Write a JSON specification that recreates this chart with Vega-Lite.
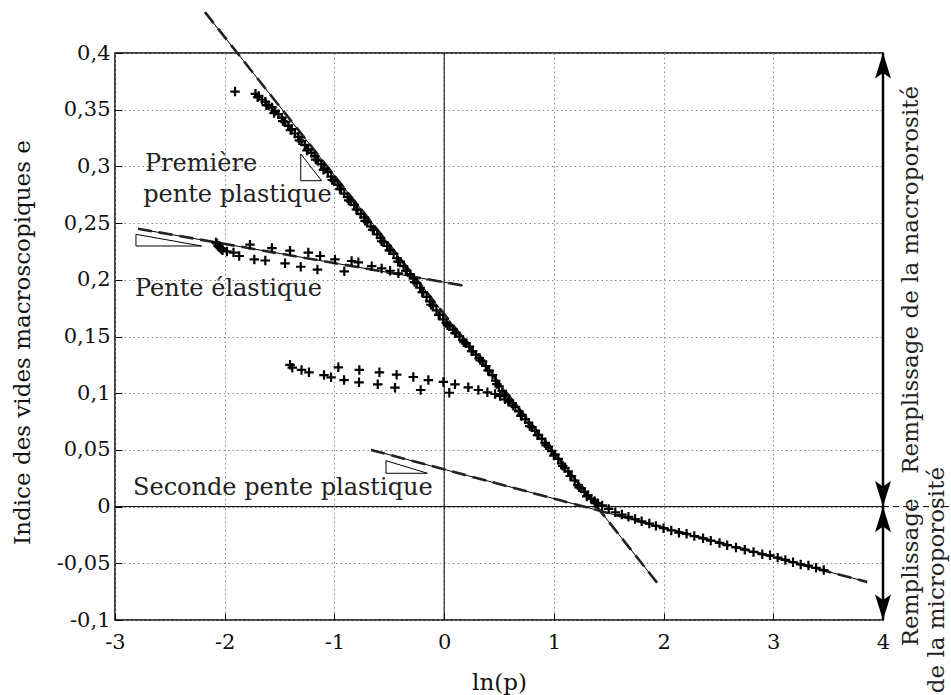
{
"$schema": "https://vega.github.io/schema/vega-lite/v6.json",
"width": 768, "height": 567,
"autosize": {"type": "none"},
"padding": {"left": 115, "top": 53, "right": 68, "bottom": 75},
"background": "white",
"config": {
  "view": {"stroke": "black", "strokeWidth": 1.5},
  "font": "DejaVu Serif",
  "axis": {"labelFont": "DejaVu Serif", "titleFont": "DejaVu Serif", "labelFontSize": 21, "titleFontSize": 23, "labelColor": "#111", "titleColor": "#111", "titleFontWeight": "normal", "grid": true, "gridColor": "#888", "gridDash": [1.5, 3], "gridWidth": 1, "domain": false, "tickColor": "black", "tickSize": -7, "tickWidth": 1}
},
"datasets": {
  "pts": [
    {"x": -1.906, "y": 0.366},
    {"x": -1.72, "y": 0.364}, {"x": -1.69, "y": 0.362}, {"x": -1.66, "y": 0.359}, {"x": -1.63, "y": 0.357}, {"x": -1.6, "y": 0.354}, {"x": -1.57, "y": 0.352}, {"x": -1.54, "y": 0.349}, {"x": -1.51, "y": 0.346}, {"x": -1.48, "y": 0.343}, {"x": -1.45, "y": 0.339}, {"x": -1.42, "y": 0.336}, {"x": -1.39, "y": 0.333}, {"x": -1.36, "y": 0.329}, {"x": -1.33, "y": 0.326}, {"x": -1.3, "y": 0.322}, {"x": -1.27, "y": 0.319}, {"x": -1.24, "y": 0.315}, {"x": -1.21, "y": 0.312}, {"x": -1.18, "y": 0.309}, {"x": -1.15, "y": 0.305}, {"x": -1.12, "y": 0.302}, {"x": -1.09, "y": 0.298}, {"x": -1.06, "y": 0.295}, {"x": -1.03, "y": 0.291}, {"x": -1.0, "y": 0.287}, {"x": -0.97, "y": 0.284}, {"x": -0.94, "y": 0.28}, {"x": -0.91, "y": 0.276}, {"x": -0.88, "y": 0.273}, {"x": -0.85, "y": 0.269}, {"x": -0.82, "y": 0.266}, {"x": -0.79, "y": 0.262}, {"x": -0.76, "y": 0.258}, {"x": -0.73, "y": 0.255}, {"x": -0.7, "y": 0.251}, {"x": -0.67, "y": 0.247}, {"x": -0.64, "y": 0.244}, {"x": -0.61, "y": 0.24}, {"x": -0.58, "y": 0.237}, {"x": -0.55, "y": 0.233}, {"x": -0.52, "y": 0.23}, {"x": -0.49, "y": 0.226}, {"x": -0.46, "y": 0.223}, {"x": -0.43, "y": 0.219}, {"x": -0.4, "y": 0.216}, {"x": -0.37, "y": 0.212}, {"x": -0.34, "y": 0.208}, {"x": -0.31, "y": 0.205}, {"x": -0.28, "y": 0.201}, {"x": -0.25, "y": 0.197}, {"x": -0.22, "y": 0.193}, {"x": -0.19, "y": 0.189}, {"x": -0.16, "y": 0.185}, {"x": -0.13, "y": 0.181}, {"x": -0.1, "y": 0.177}, {"x": -0.07, "y": 0.173}, {"x": -0.04, "y": 0.169}, {"x": -0.01, "y": 0.165}, {"x": 0.02, "y": 0.162}, {"x": 0.05, "y": 0.159}, {"x": 0.08, "y": 0.156}, {"x": 0.11, "y": 0.153}, {"x": 0.14, "y": 0.15}, {"x": 0.17, "y": 0.147}, {"x": 0.2, "y": 0.144}, {"x": 0.23, "y": 0.141}, {"x": 0.26, "y": 0.137}, {"x": 0.29, "y": 0.134}, {"x": 0.32, "y": 0.131}, {"x": 0.35, "y": 0.128}, {"x": 0.38, "y": 0.124}, {"x": 0.41, "y": 0.12}, {"x": 0.44, "y": 0.116}, {"x": 0.47, "y": 0.111}, {"x": 0.5, "y": 0.106}, {"x": 0.53, "y": 0.102}, {"x": 0.56, "y": 0.098}, {"x": 0.59, "y": 0.094}, {"x": 0.62, "y": 0.091}, {"x": 0.65, "y": 0.088}, {"x": 0.68, "y": 0.084}, {"x": 0.71, "y": 0.081}, {"x": 0.74, "y": 0.077}, {"x": 0.77, "y": 0.074}, {"x": 0.8, "y": 0.07}, {"x": 0.83, "y": 0.067}, {"x": 0.86, "y": 0.063}, {"x": 0.89, "y": 0.06}, {"x": 0.92, "y": 0.056}, {"x": 0.95, "y": 0.053}, {"x": 0.98, "y": 0.049}, {"x": 1.01, "y": 0.046}, {"x": 1.04, "y": 0.042}, {"x": 1.07, "y": 0.038}, {"x": 1.1, "y": 0.034}, {"x": 1.13, "y": 0.031}, {"x": 1.16, "y": 0.027}, {"x": 1.19, "y": 0.023}, {"x": 1.22, "y": 0.019}, {"x": 1.25, "y": 0.016}, {"x": 1.28, "y": 0.013}, {"x": 1.31, "y": 0.01}, {"x": 1.34, "y": 0.007}, {"x": 1.37, "y": 0.005}, {"x": 1.4, "y": 0.003},
    {"x": -1.7, "y": 0.361}, {"x": -1.62, "y": 0.354}, {"x": -1.55, "y": 0.347}, {"x": -1.47, "y": 0.34}, {"x": -1.4, "y": 0.332}, {"x": -1.32, "y": 0.323}, {"x": -1.25, "y": 0.314}, {"x": -1.17, "y": 0.306}, {"x": -1.1, "y": 0.297}, {"x": -1.02, "y": 0.288}, {"x": -0.95, "y": 0.28}, {"x": -0.87, "y": 0.27}, {"x": -0.8, "y": 0.262}, {"x": -0.72, "y": 0.252}, {"x": -0.65, "y": 0.244}, {"x": -0.57, "y": 0.234}, {"x": -0.5, "y": 0.226}, {"x": -0.42, "y": 0.216}, {"x": -0.35, "y": 0.208}, {"x": -0.27, "y": 0.198}, {"x": -0.2, "y": 0.189}, {"x": -0.12, "y": 0.178}, {"x": -0.05, "y": 0.169}, {"x": 0.03, "y": 0.16}, {"x": 0.1, "y": 0.153}, {"x": 0.18, "y": 0.145}, {"x": 0.25, "y": 0.137}, {"x": 0.33, "y": 0.129}, {"x": 0.4, "y": 0.12}, {"x": 0.48, "y": 0.108}, {"x": 0.55, "y": 0.098}, {"x": 0.63, "y": 0.089}, {"x": 0.7, "y": 0.08}, {"x": 0.78, "y": 0.071}, {"x": 0.85, "y": 0.063}, {"x": 0.93, "y": 0.054}, {"x": 1.0, "y": 0.045}, {"x": 1.08, "y": 0.036}, {"x": 1.15, "y": 0.027}, {"x": 1.23, "y": 0.017}, {"x": 1.3, "y": 0.009}, {"x": 1.38, "y": 0.003},
    {"x": 1.44, "y": 0.001}, {"x": 1.5, "y": -0.002}, {"x": 1.56, "y": -0.005}, {"x": 1.62, "y": -0.007}, {"x": 1.68, "y": -0.009}, {"x": 1.74, "y": -0.011}, {"x": 1.8, "y": -0.013}, {"x": 1.87, "y": -0.015}, {"x": 1.93, "y": -0.017}, {"x": 2.0, "y": -0.019}, {"x": 2.07, "y": -0.021}, {"x": 2.14, "y": -0.023}, {"x": 2.21, "y": -0.024}, {"x": 2.28, "y": -0.026}, {"x": 2.36, "y": -0.028}, {"x": 2.43, "y": -0.03}, {"x": 2.51, "y": -0.032}, {"x": 2.58, "y": -0.034}, {"x": 2.66, "y": -0.036}, {"x": 2.74, "y": -0.038}, {"x": 2.82, "y": -0.04}, {"x": 2.9, "y": -0.042}, {"x": 2.97, "y": -0.043}, {"x": 3.04, "y": -0.045}, {"x": 3.11, "y": -0.047}, {"x": 3.18, "y": -0.049}, {"x": 3.25, "y": -0.051}, {"x": 3.32, "y": -0.052}, {"x": 3.39, "y": -0.054}, {"x": 3.46, "y": -0.056},
    {"x": -2.08, "y": 0.233}, {"x": -2.07, "y": 0.232}, {"x": -2.06, "y": 0.23}, {"x": -2.05, "y": 0.229}, {"x": -2.04, "y": 0.228}, {"x": -2.03, "y": 0.227}, {"x": -2.02, "y": 0.226},
    {"x": -1.98, "y": 0.225}, {"x": -1.92, "y": 0.224}, {"x": -1.868, "y": 0.221}, {"x": -1.73, "y": 0.218}, {"x": -1.63, "y": 0.217}, {"x": -1.45, "y": 0.2145}, {"x": -1.307, "y": 0.2115}, {"x": -1.155, "y": 0.209}, {"x": -0.91, "y": 0.2075},
    {"x": -1.77, "y": 0.231}, {"x": -1.57, "y": 0.228}, {"x": -1.405, "y": 0.2257}, {"x": -1.238, "y": 0.224}, {"x": -1.13, "y": 0.221}, {"x": -0.995, "y": 0.218}, {"x": -0.843, "y": 0.2166}, {"x": -0.782, "y": 0.2154}, {"x": -0.66, "y": 0.212}, {"x": -0.57, "y": 0.21}, {"x": -0.493, "y": 0.208}, {"x": -0.417, "y": 0.2057},
    {"x": -1.405, "y": 0.125}, {"x": -1.384, "y": 0.1225}, {"x": -1.3, "y": 0.1205}, {"x": -1.232, "y": 0.1184}, {"x": -1.095, "y": 0.116}, {"x": -1.031, "y": 0.114}, {"x": -0.964, "y": 0.1228}, {"x": -0.912, "y": 0.1116}, {"x": -0.773, "y": 0.1205}, {"x": -0.776, "y": 0.1096}, {"x": -0.59, "y": 0.1184}, {"x": -0.605, "y": 0.1078}, {"x": -0.433, "y": 0.1163}, {"x": -0.448, "y": 0.1049}, {"x": -0.281, "y": 0.1143}, {"x": -0.214, "y": 0.1028}, {"x": -0.144, "y": 0.1116}, {"x": -0.007, "y": 0.1099}, {"x": 0.047, "y": 0.1004}, {"x": 0.099, "y": 0.1078}, {"x": 0.22, "y": 0.1052}, {"x": 0.312, "y": 0.1028}, {"x": 0.394, "y": 0.1008}, {"x": 0.464, "y": 0.0993}, {"x": 0.51, "y": 0.0975}, {"x": 0.555, "y": 0.0946}, {"x": 0.586, "y": 0.0925}
  ],
  "refl": [
    {"id": "L1", "x": -2.18, "y": 0.436}, {"id": "L1", "x": 1.94, "y": -0.067},
    {"id": "L2", "x": -2.79, "y": 0.245}, {"id": "L2", "x": 0.17, "y": 0.195},
    {"id": "L3", "x": -0.666, "y": 0.05}, {"id": "L3", "x": 3.855, "y": -0.0665}
  ],
  "tri": [
    {"id": "T1", "o": 1, "x": -1.307, "y": 0.311}, {"id": "T1", "o": 2, "x": -1.307, "y": 0.2874}, {"id": "T1", "o": 3, "x": -1.117, "y": 0.2874}, {"id": "T1", "o": 4, "x": -1.307, "y": 0.311},
    {"id": "T2", "o": 1, "x": -2.809, "y": 0.2401}, {"id": "T2", "o": 2, "x": -2.809, "y": 0.2298}, {"id": "T2", "o": 3, "x": -2.21, "y": 0.2298}, {"id": "T2", "o": 4, "x": -2.809, "y": 0.2401},
    {"id": "T3", "o": 1, "x": -0.53, "y": 0.0405}, {"id": "T3", "o": 2, "x": -0.53, "y": 0.0294}, {"id": "T3", "o": 3, "x": -0.153, "y": 0.0294}, {"id": "T3", "o": 4, "x": -0.53, "y": 0.0405}
  ],
  "ann": [
    {"x": -2.727, "y": 0.296, "t": "Première"},
    {"x": -2.743, "y": 0.269, "t": "pente plastique"},
    {"x": -2.818, "y": 0.186, "t": "Pente élastique"},
    {"x": -2.836, "y": 0.01, "t": "Seconde pente plastique"}
  ],
  "side": [
    {"x": 4.256, "y": 0.2, "t": "Remplissage de la macroporosité"},
    {"x": 4.256, "y": -0.058, "t": "Remplissage"},
    {"x": 4.493, "y": -0.0648, "t": "de la microporosité"}
  ]
},
"encoding": {
  "x": {"field": "x", "type": "quantitative", "scale": {"domain": [-3, 4], "nice": false, "zero": false},
        "axis": {"title": "ln(p)", "labelFont": "DejaVu Serif", "titleFont": "DejaVu Serif", "values": [-3, -2, -1, 0, 1, 2, 3, 4], "labelExpr": "replace(format(datum.value, 'd'), '\u2212', '-')", "labelPadding": 18, "titleY": 62, "titleBaseline": "middle", "labelFlush": false}},
  "y": {"field": "y", "type": "quantitative", "scale": {"domain": [-0.1, 0.4], "nice": false, "zero": false},
        "axis": {"title": "Indice des vides macroscopiques e", "labelFont": "DejaVu Serif", "titleFont": "DejaVu Serif", "values": [-0.1, -0.05, 0, 0.05, 0.1, 0.15, 0.2, 0.25, 0.3, 0.35, 0.4], "labelExpr": "replace(replace(format(datum.value, '.2~f'), '.', ','), '\u2212', '-')", "labelPadding": 12, "titleX": -93, "titleY": 289, "titleAngle": 270, "titleAlign": "center", "titleBaseline": "middle", "labelFlush": false}}
},
"layer": [
  {"data": {"values": [{"x": -3, "x2": 4, "y": 0}]}, "mark": {"type": "rule", "color": "black", "strokeWidth": 1}, "encoding": {"x2": {"field": "x2"}}},
  {"data": {"values": [{"x": 0, "y": -0.1, "y2": 0.4}]}, "mark": {"type": "rule", "color": "black", "strokeWidth": 1}, "encoding": {"y2": {"field": "y2"}}},
  {"data": {"name": "refl"}, "mark": {"type": "line", "color": "black", "strokeWidth": 1}, "encoding": {"detail": {"field": "id"}}},
  {"data": {"name": "refl"}, "mark": {"type": "line", "color": "#222", "strokeWidth": 2.6, "strokeDash": [14, 7]}, "encoding": {"detail": {"field": "id"}}},
  {"data": {"name": "tri"}, "mark": {"type": "line", "color": "black", "strokeWidth": 1}, "encoding": {"detail": {"field": "id"}, "order": {"field": "o"}}},
  {"data": {"name": "pts"}, "mark": {"type": "point", "shape": "M-1,0H1M0,-1V1", "size": 90, "filled": false, "stroke": "black", "strokeWidth": 2.2, "opacity": 1}},
  {"data": {"name": "ann"}, "mark": {"type": "text", "align": "left", "baseline": "alphabetic", "fontSize": 24, "font": "DejaVu Serif", "color": "#222"}, "encoding": {"text": {"field": "t"}}},
  {"data": {"name": "side"}, "mark": {"type": "text", "align": "center", "baseline": "middle", "angle": 270, "fontSize": 23, "font": "DejaVu Serif", "color": "#222"}, "encoding": {"text": {"field": "t"}}},
  {"data": {"values": [{"x": 4, "x2": 4.62, "y": 0}]}, "mark": {"type": "rule", "color": "black", "strokeWidth": 1, "strokeDash": [6, 4]}, "encoding": {"x2": {"field": "x2"}}},
  {"data": {"values": [{"x": 4, "y": 0, "y2": 0.4}, {"x": 4, "y": -0.1, "y2": 0}]}, "mark": {"type": "rule", "color": "black", "strokeWidth": 2.5}, "encoding": {"y2": {"field": "y2"}}},
  {"data": {"values": [{"x": 4, "y": 0.4}, {"x": 4, "y": 0}]}, "mark": {"type": "point", "shape": "M0,0L-1,3.2L0,2.5L1,3.2Z", "size": 256, "filled": true, "color": "black", "opacity": 1}},
  {"data": {"values": [{"x": 4, "y": 0}, {"x": 4, "y": -0.1}]}, "mark": {"type": "point", "shape": "M0,0L-1,-3.2L0,-2.5L1,-3.2Z", "size": 256, "filled": true, "color": "black", "opacity": 1}}
]
}
